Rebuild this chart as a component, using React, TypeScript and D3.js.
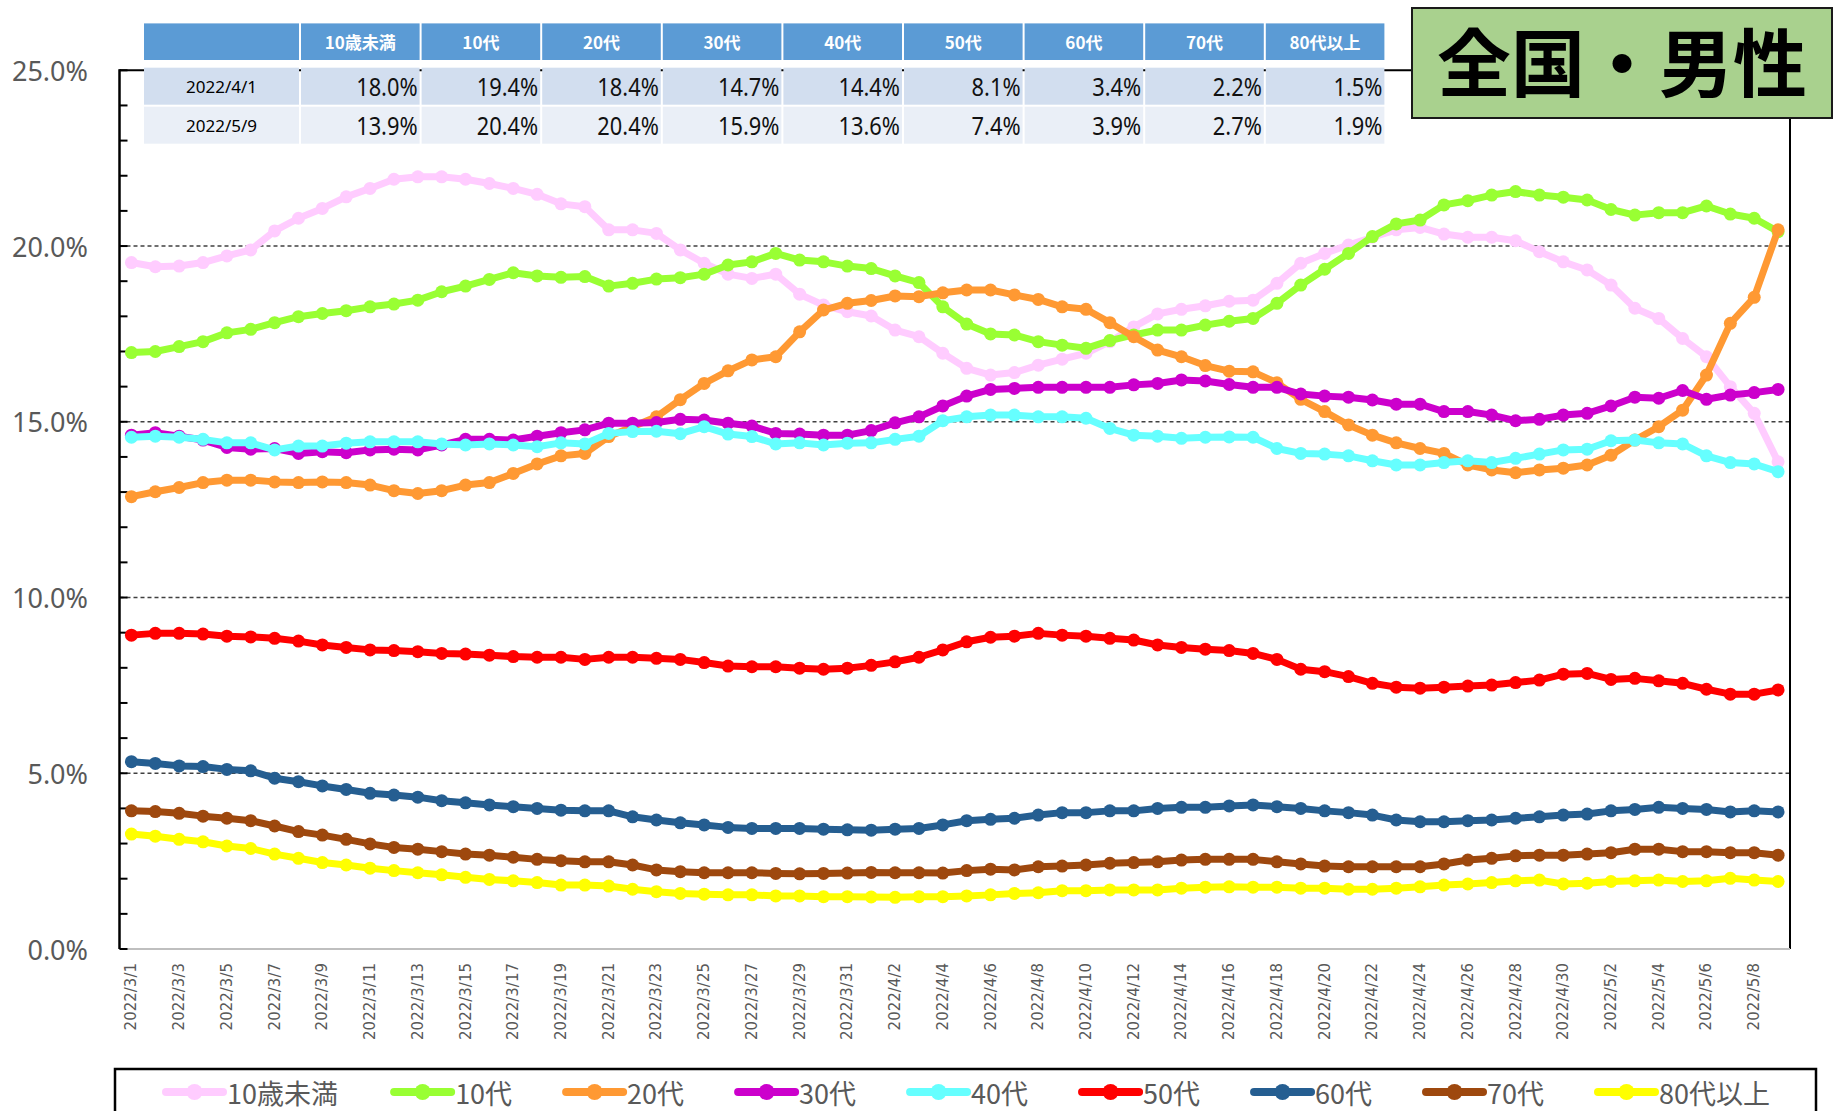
import * as d3 from "d3";

// 年代別シェア（%）
const seriesNames = ["10歳未満", "10代", "20代", "30代", "40代", "50代", "60代", "70代", "80代以上"];
const seriesColors = ["#FFCCFF", "#99FF33", "#FF9933", "#CC00CC", "#66FFFF", "#FF0000", "#255E91", "#9E480E", "#FFFF00"];

const under10 = [
  19.53, 19.41, 19.43, 19.53, 19.72, 19.89, 20.43, 20.79, 21.07, 21.4,
  21.64, 21.9, 21.97, 21.97, 21.9, 21.78, 21.64, 21.47, 21.2, 21.12,
  20.46, 20.46, 20.36, 19.89, 19.51, 19.2, 19.08, 19.2, 18.63, 18.32,
  18.13, 18.01, 17.61, 17.42, 16.95, 16.52, 16.33, 16.4, 16.61, 16.78,
  16.95, 17.28, 17.7, 18.07, 18.2, 18.3, 18.43, 18.46, 18.94, 19.51,
  19.79, 20.03, 20.25, 20.46, 20.53, 20.34, 20.25, 20.25, 20.15, 19.84,
  19.55, 19.32, 18.89, 18.23, 17.94, 17.37, 16.85, 16.0, 15.24, 13.86,
];
const teens = [
  16.97, 17.0, 17.14, 17.28, 17.53, 17.63, 17.82, 17.99, 18.08, 18.16,
  18.27, 18.35, 18.46, 18.7, 18.86, 19.05, 19.24, 19.15, 19.11, 19.13,
  18.86, 18.94, 19.06, 19.1, 19.2, 19.46, 19.55, 19.79, 19.6, 19.55,
  19.43, 19.36, 19.15, 18.96, 18.27, 17.78, 17.5, 17.47, 17.28, 17.18,
  17.09, 17.31, 17.47, 17.61, 17.61, 17.75, 17.86, 17.94, 18.37, 18.89,
  19.34, 19.79, 20.27, 20.63, 20.74, 21.17, 21.29, 21.45, 21.55, 21.45,
  21.39, 21.31, 21.04, 20.88, 20.95, 20.95, 21.14, 20.91, 20.79, 20.41,
];
const twenties = [
  12.87, 13.01, 13.13, 13.27, 13.34, 13.34, 13.29, 13.27, 13.29, 13.27,
  13.2, 13.04, 12.96, 13.04, 13.2, 13.27, 13.53, 13.8, 14.03, 14.1,
  14.58, 14.86, 15.14, 15.63, 16.09, 16.45, 16.76, 16.85, 17.56, 18.18,
  18.37, 18.45, 18.58, 18.56, 18.67, 18.75, 18.75, 18.61, 18.48, 18.27,
  18.2, 17.82, 17.42, 17.04, 16.85, 16.6, 16.44, 16.42, 16.11, 15.64,
  15.29, 14.91, 14.62, 14.4, 14.24, 14.1, 13.77, 13.63, 13.55, 13.63,
  13.68, 13.77, 14.05, 14.48, 14.86, 15.33, 16.33, 17.8, 18.54, 20.46,
];
const thirties = [
  14.62, 14.69, 14.59, 14.48, 14.27, 14.22, 14.24, 14.1, 14.15, 14.12,
  14.2, 14.22, 14.2, 14.34, 14.5, 14.5, 14.48, 14.59, 14.69, 14.77,
  14.96, 14.96, 14.98, 15.07, 15.05, 14.96, 14.88, 14.67, 14.65, 14.62,
  14.62, 14.75, 14.97, 15.14, 15.45, 15.73, 15.92, 15.95, 15.98, 15.98,
  15.98, 15.98, 16.05, 16.09, 16.19, 16.16, 16.06, 15.98, 15.98, 15.79,
  15.73, 15.7, 15.62, 15.5, 15.5, 15.29, 15.29, 15.19, 15.03, 15.07,
  15.19, 15.24, 15.45, 15.7, 15.67, 15.89, 15.64, 15.76, 15.83, 15.92,
];
const forties = [
  14.56, 14.59, 14.56, 14.5, 14.4, 14.4, 14.2, 14.31, 14.31, 14.39,
  14.43, 14.43, 14.43, 14.37, 14.34, 14.37, 14.34, 14.29, 14.4, 14.37,
  14.67, 14.72, 14.73, 14.66, 14.86, 14.65, 14.58, 14.37, 14.4, 14.34,
  14.39, 14.4, 14.5, 14.59, 15.03, 15.14, 15.19, 15.19, 15.14, 15.14,
  15.1, 14.81, 14.62, 14.59, 14.53, 14.56, 14.57, 14.56, 14.24, 14.1,
  14.08, 14.03, 13.89, 13.77, 13.77, 13.84, 13.89, 13.84, 13.96, 14.08,
  14.2, 14.22, 14.46, 14.48, 14.4, 14.37, 14.03, 13.84, 13.8, 13.58,
];
const fifties = [
  8.93, 8.98, 8.98, 8.96, 8.9, 8.88, 8.84, 8.76, 8.65, 8.58,
  8.51, 8.49, 8.46, 8.41, 8.39, 8.36, 8.32, 8.3, 8.3, 8.24,
  8.3, 8.3, 8.27, 8.24, 8.15, 8.05, 8.03, 8.03, 7.99, 7.96,
  7.99, 8.07, 8.17, 8.3, 8.51, 8.74, 8.87, 8.9, 8.98, 8.93,
  8.9, 8.84, 8.79, 8.65, 8.58, 8.53, 8.49, 8.41, 8.24, 7.96,
  7.89, 7.75, 7.56, 7.45, 7.42, 7.45, 7.48, 7.51, 7.58, 7.65,
  7.82, 7.84, 7.67, 7.7, 7.63, 7.56, 7.39, 7.25, 7.25, 7.37,
];
const sixties = [
  5.33, 5.28, 5.21, 5.19, 5.11, 5.07, 4.86, 4.76, 4.64, 4.54,
  4.43, 4.38, 4.32, 4.22, 4.16, 4.1, 4.05, 4.0, 3.95, 3.93,
  3.93, 3.76, 3.67, 3.59, 3.53, 3.46, 3.43, 3.43, 3.43, 3.41,
  3.39, 3.38, 3.41, 3.43, 3.53, 3.65, 3.69, 3.72, 3.81, 3.88,
  3.88, 3.93, 3.93, 4.0, 4.03, 4.03, 4.07, 4.1, 4.05, 4.0,
  3.93, 3.88, 3.81, 3.67, 3.62, 3.62, 3.65, 3.67, 3.72, 3.76,
  3.81, 3.84, 3.93, 3.97, 4.03, 4.0, 3.97, 3.9, 3.93, 3.9,
];
const seventies = [
  3.93, 3.91, 3.86, 3.78, 3.72, 3.65, 3.5, 3.34, 3.24, 3.12,
  2.99, 2.89, 2.84, 2.77, 2.7, 2.67, 2.61, 2.55, 2.51, 2.48,
  2.48, 2.39, 2.25, 2.2, 2.17, 2.17, 2.17, 2.15, 2.14, 2.15,
  2.16, 2.18, 2.17, 2.17, 2.16, 2.23, 2.27, 2.25, 2.34, 2.36,
  2.39, 2.44, 2.46, 2.48, 2.53, 2.55, 2.55, 2.55, 2.48, 2.42,
  2.36, 2.34, 2.34, 2.34, 2.34, 2.42, 2.53, 2.58, 2.65, 2.67,
  2.67, 2.7, 2.74, 2.84, 2.84, 2.77, 2.77, 2.74, 2.74, 2.67,
];
const over80 = [
  3.27, 3.21, 3.12, 3.05, 2.93, 2.86, 2.7, 2.58, 2.46, 2.39,
  2.3, 2.23, 2.17, 2.11, 2.04, 1.98, 1.94, 1.89, 1.82, 1.82,
  1.79, 1.7, 1.63, 1.58, 1.56, 1.54, 1.54, 1.51, 1.51, 1.49,
  1.49, 1.48, 1.47, 1.49, 1.49, 1.51, 1.54, 1.58, 1.6, 1.66,
  1.66, 1.68, 1.68, 1.68, 1.73, 1.76, 1.77, 1.76, 1.76, 1.73,
  1.73, 1.7, 1.7, 1.73, 1.77, 1.82, 1.85, 1.89, 1.94, 1.96,
  1.85, 1.87, 1.92, 1.94, 1.96, 1.92, 1.94, 2.01, 1.96, 1.92,
];

const seriesValues = [under10, teens, twenties, thirties, forties, fifties, sixties, seventies, over80];

// 2022/3/1 〜 2022/5/9
const dates = d3
  .timeDays(new Date(2022, 2, 1), new Date(2022, 4, 10))
  .map((d) => `${d.getFullYear()}/${d.getMonth() + 1}/${d.getDate()}`);

// 表
const tableDates = ["2022/4/1", "2022/5/9"];
const tableApr1 = [18.0, 19.4, 18.4, 14.7, 14.4, 8.1, 3.4, 2.2, 1.5];
const tableMay9 = [13.9, 20.4, 20.4, 15.9, 13.6, 7.4, 3.9, 2.7, 1.9];
const tableRows = [tableApr1, tableMay9];

const title = "全国・男性";

const W = 1837;
const H = 1111;
const plot = { left: 119.5, right: 1790, top: 70.3, bottom: 949 };
const JP = "'Noto Sans CJK JP', 'Noto Sans', sans-serif";
const GREY = "#595959";

export default function App() {
  const x = d3.scaleBand<string>().domain(dates).range([plot.left, plot.right]);
  const cx = (d: string) => (x(d) ?? 0) + x.bandwidth() / 2;
  const y = d3.scaleLinear().domain([0, 25]).range([plot.bottom, plot.top]);

  const line = d3
    .line<number>()
    .x((_, i) => cx(dates[i]))
    .y((v) => y(v));

  const minorTicks = y.ticks(25);
  const majorTicks = d3.range(0, 26, 5);

  // table layout
  const tblLeft = 144;
  const firstW = 157;
  const colW = 120.6;
  const headTop = 23.4;
  const headH = 36.6;
  const rowTops = [67.7, 106.7];
  const rowH = 37;

  // legend layout
  const legFs = 27;
  const textW = (s: string) =>
    Array.from(s).reduce((a, c) => a + (/[0-9]/.test(c) ? 0.6 : 1.04) * legFs, 0);
  let lx = 166;
  const legendItems = seriesNames.map((name, i) => {
    const item = { name, color: seriesColors[i], x: lx };
    lx += 57 + 4 + textW(name) + 50.5;
    return item;
  });
  const legY = 1092;

  return (
    <svg width={W} height={H} style={{ display: "block", background: "#fff" }}>
      <style>{`body{margin:0}`}</style>

      {/* grid lines */}
      {majorTicks
        .filter((t) => t > 0 && t < 25)
        .map((t) => (
          <line
            key={"g" + t}
            x1={plot.left}
            x2={plot.right}
            y1={y(t)}
            y2={y(t)}
            stroke="#404040"
            strokeWidth={1.5}
            strokeDasharray="4 3"
          />
        ))}

      {/* plot area frame */}
      <line x1={plot.left} x2={plot.right} y1={plot.top} y2={plot.top} stroke="#000" strokeWidth={2} />
      <line x1={plot.right} x2={plot.right} y1={plot.top} y2={plot.bottom} stroke="#000" strokeWidth={2} />
      <line x1={plot.left} x2={plot.right} y1={plot.bottom} y2={plot.bottom} stroke="#BFBFBF" strokeWidth={2} />
      <line x1={plot.left} x2={plot.left} y1={plot.top - 1} y2={plot.bottom} stroke="#000" strokeWidth={2.5} />

      {/* y ticks and labels */}
      {minorTicks.map((t) => (
        <line key={"t" + t} x1={plot.left} x2={plot.left + 8} y1={y(t)} y2={y(t)} stroke="#000" strokeWidth={2} />
      ))}
      {majorTicks.map((t) => (
        <text
          key={"yl" + t}
          x={88}
          y={y(t)}
          textAnchor="end"
          dominantBaseline="central"
          fontFamily="'Noto Sans', sans-serif"
          fontSize={27}
          fill={GREY}
        >
          {t.toFixed(1) + "%"}
        </text>
      ))}

      {/* x labels */}
      {dates
        .filter((_, i) => i % 2 === 0)
        .map((d) => (
          <text
            key={"xl" + d}
            transform={`translate(${cx(d)},${963}) rotate(-90)`}
            textAnchor="end"
            dominantBaseline="central"
            fontFamily="'DejaVu Sans', sans-serif"
            fontSize={15}
            fill={GREY}
          >
            {d}
          </text>
        ))}

      {/* series */}
      {seriesValues.map((vals, si) => (
        <g key={"s" + si}>
          <path
            d={line(vals) ?? ""}
            fill="none"
            stroke={seriesColors[si]}
            strokeWidth={7}
            strokeLinejoin="round"
            strokeLinecap="round"
          />
          {vals.map((v, i) => (
            <circle key={i} cx={cx(dates[i])} cy={y(v)} r={6.5} fill={seriesColors[si]} />
          ))}
        </g>
      ))}

      {/* table */}
      <g>
        <rect x={tblLeft} y={headTop} width={firstW - 2} height={headH} fill="#5B9BD5" />
        {seriesNames.map((name, i) => {
          const x0 = tblLeft + firstW + i * colW;
          return (
            <g key={"h" + i}>
              <rect x={x0} y={headTop} width={colW - 2} height={headH} fill="#5B9BD5" />
              <text
                x={x0 + (colW - 2) / 2}
                y={headTop + headH / 2}
                textAnchor="middle"
                dominantBaseline="central"
                fontFamily={JP}
                fontWeight={700}
                fontSize={17}
                fill="#fff"
              >
                {name}
              </text>
            </g>
          );
        })}
        {tableRows.map((row, ri) => {
          const fill = ri === 0 ? "#D2DEEF" : "#EAEFF7";
          const top = rowTops[ri];
          return (
            <g key={"r" + ri}>
              <rect x={tblLeft} y={top} width={firstW - 2} height={rowH} fill={fill} />
              <text
                x={tblLeft + (firstW - 2) / 2}
                y={top + rowH / 2}
                textAnchor="middle"
                dominantBaseline="central"
                fontFamily="'Noto Sans', sans-serif"
                fontSize={17}
                fill="#000"
              >
                {tableDates[ri]}
              </text>
              {row.map((v, ci) => {
                const x0 = tblLeft + firstW + ci * colW;
                return (
                  <g key={ci}>
                    <rect x={x0} y={top} width={colW - 2} height={rowH} fill={fill} />
                    <text
                      transform={`translate(${x0 + colW - 4},${top + rowH / 2}) scale(0.84,1)`}
                      textAnchor="end"
                      dominantBaseline="central"
                      fontFamily="'Noto Sans', sans-serif"
                      fontSize={26}
                      fill="#111"
                    >
                      {v.toFixed(1) + "%"}
                    </text>
                  </g>
                );
              })}
            </g>
          );
        })}
      </g>

      {/* title box */}
      <rect x={1412} y={8} width={420} height={110} fill="#A9D18E" stroke="#1a1a1a" strokeWidth={2} />
      <text
        x={1622}
        y={58}
        textAnchor="middle"
        dominantBaseline="central"
        fontFamily={JP}
        fontWeight={700}
        fontSize={74}
        fill="#000"
      >
        {title}
      </text>

      {/* legend */}
      <rect x={115} y={1069} width={1701} height={80} fill="none" stroke="#000" strokeWidth={2.5} />
      {legendItems.map((it) => (
        <g key={"lg" + it.name}>
          <line x1={it.x} x2={it.x + 57} y1={legY} y2={legY} stroke={it.color} strokeWidth={8} strokeLinecap="round" />
          <circle cx={it.x + 28.5} cy={legY} r={8} fill={it.color} />
          <text
            x={it.x + 61}
            y={legY}
            dominantBaseline="central"
            fontFamily={JP}
            fontSize={legFs}
            fill={GREY}
          >
            {it.name}
          </text>
        </g>
      ))}
    </svg>
  );
}
